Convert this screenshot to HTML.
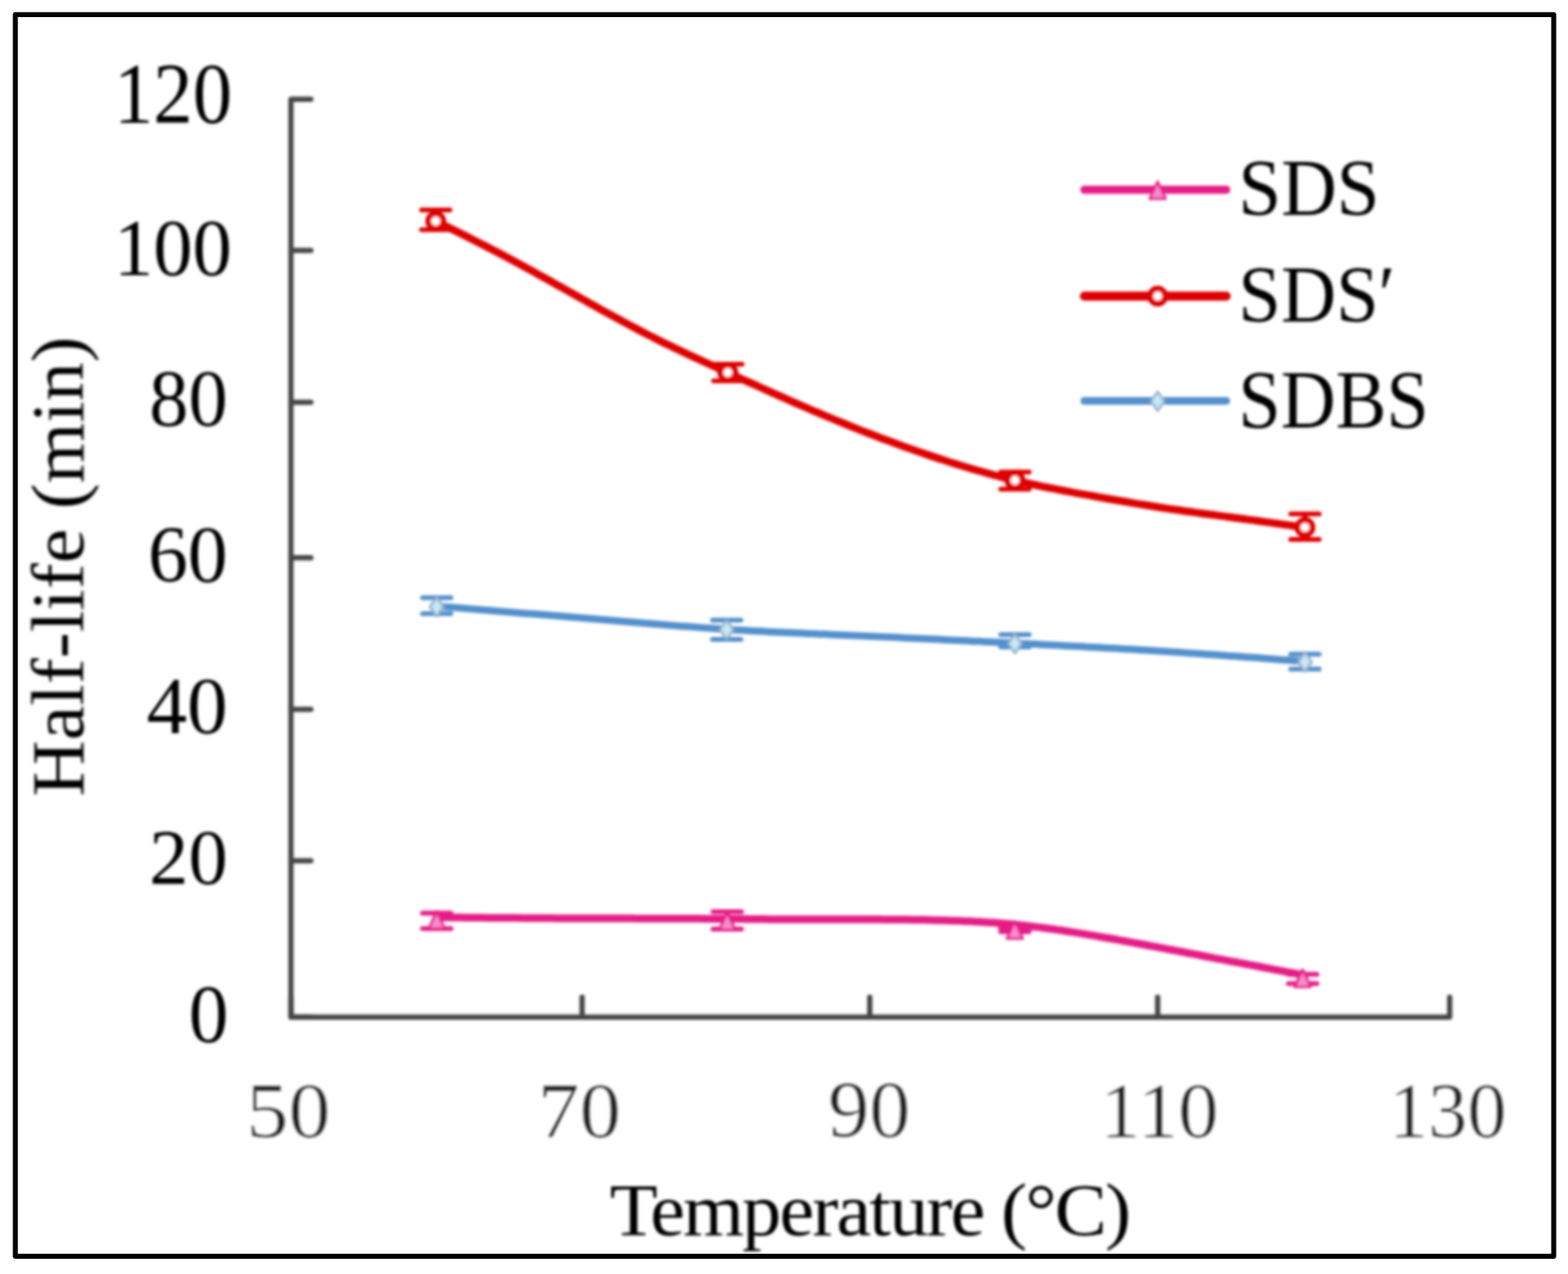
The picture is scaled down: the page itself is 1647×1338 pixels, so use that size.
<!DOCTYPE html>
<html><head><meta charset="utf-8"><title>Half-life (min) vs Temperature (°C)</title>
<style>
html,body{margin:0;padding:0;background:#fff;width:1647px;height:1338px;overflow:hidden}
svg{display:block}
.t{font-family:"Liberation Serif","Times New Roman",serif;fill:#000}
.yl{font-size:85px}
.xl{font-size:84px;fill:#1e1e1e;stroke:#fff;stroke-width:0.6px}
.lg{font-size:81px}
.xt{font-size:81px;letter-spacing:-2px}
.yt{font-size:81px}

</style></head>
<body>
<svg width="1647" height="1338" viewBox="0 0 1647 1338">
<defs><filter id="soft" x="0" y="0" width="1647" height="1338" filterUnits="userSpaceOnUse"><feGaussianBlur stdDeviation="1.4"/></filter></defs>
<rect width="1647" height="1338" fill="#fff"/>
<g filter="url(#soft)">
<path d="M305.6,104.2 V1068.25 H1522.7" fill="none" stroke="#454545" stroke-width="5.5" stroke-linejoin="round"/>
<path d="M305.6,1068.2 H326.6 M305.6,904.1 H326.6 M305.6,745.0 H326.6 M305.6,585.8 H326.6 M305.6,422.4 H326.6 M305.6,263.0 H326.6 M305.6,104.2 H326.6 M305.6,1068.25 V1047.2 M611.4,1068.25 V1047.2 M913.6,1068.25 V1047.2 M1216.0,1068.25 V1047.2 M1522.7,1068.25 V1047.2" fill="none" stroke="#454545" stroke-width="5.5" stroke-linecap="round"/>
<path d="M458.7,959.1 V975.2 M443.7,959.1 H473.7 M443.7,975.2 H473.7 M763.9,957.6 V975.8 M748.9,957.6 H778.9 M748.9,975.8 H778.9 M1066.0,974.5 V978.5 M1051.0,974.5 H1081.0 M1051.0,978.5 H1081.0 M1368.3,1023.3 V1033.0 M1353.3,1023.3 H1383.3 M1353.3,1033.0 H1383.3" fill="none" stroke="#e51b86" stroke-width="5.0" stroke-linecap="round"/>
<path d="M458.7,963.4 L464.7,963.5 L470.8,963.5 L476.8,963.6 L482.8,963.6 L488.8,963.7 L494.9,963.7 L500.9,963.8 L506.9,963.8 L513.0,963.9 L519.0,963.9 L525.0,964.0 L531.0,964.0 L537.1,964.1 L543.1,964.1 L549.1,964.2 L555.2,964.2 L561.2,964.2 L567.2,964.3 L573.2,964.3 L579.3,964.3 L585.3,964.4 L591.3,964.4 L597.4,964.4 L603.4,964.5 L609.4,964.5 L615.4,964.5 L621.5,964.5 L627.5,964.6 L633.5,964.6 L639.6,964.6 L645.6,964.6 L651.6,964.6 L657.6,964.6 L663.7,964.6 L669.7,964.7 L675.7,964.7 L681.8,964.7 L687.8,964.7 L693.8,964.7 L699.8,964.7 L705.9,964.7 L711.9,964.8 L717.9,964.8 L724.0,964.8 L730.0,964.8 L736.0,964.8 L742.0,964.9 L748.1,964.9 L754.1,964.9 L760.1,965.0 L766.2,965.0 L772.2,965.1 L778.2,965.1 L784.2,965.2 L790.3,965.2 L796.3,965.3 L802.3,965.3 L808.4,965.4 L814.4,965.4 L820.4,965.4 L826.4,965.5 L832.5,965.5 L838.5,965.6 L844.5,965.6 L850.6,965.6 L856.6,965.6 L862.6,965.6 L868.6,965.6 L874.7,965.6 L880.7,965.6 L886.7,965.6 L892.8,965.6 L898.8,965.6 L904.8,965.6 L910.8,965.6 L916.9,965.6 L922.9,965.6 L928.9,965.7 L934.9,965.7 L941.0,965.7 L947.0,965.8 L953.0,965.8 L959.1,965.9 L965.1,966.0 L971.1,966.1 L977.1,966.2 L983.2,966.4 L989.2,966.5 L995.2,966.7 L1001.3,966.9 L1007.3,967.1 L1013.3,967.4 L1019.3,967.6 L1025.4,967.9 L1031.4,968.3 L1037.4,968.7 L1043.5,969.1 L1049.5,969.5 L1055.5,970.0 L1061.5,970.6 L1067.6,971.2 L1073.6,971.8 L1079.6,972.5 L1085.7,973.2 L1091.7,973.9 L1097.7,974.7 L1103.7,975.5 L1109.8,976.4 L1115.8,977.3 L1121.8,978.2 L1127.9,979.1 L1133.9,980.1 L1139.9,981.1 L1145.9,982.1 L1152.0,983.1 L1158.0,984.2 L1164.0,985.2 L1170.1,986.3 L1176.1,987.4 L1182.1,988.5 L1188.1,989.6 L1194.2,990.7 L1200.2,991.8 L1206.2,993.0 L1212.3,994.1 L1218.3,995.2 L1224.3,996.4 L1230.3,997.5 L1236.4,998.7 L1242.4,999.8 L1248.4,1001.0 L1254.5,1002.2 L1260.5,1003.3 L1266.5,1004.5 L1272.5,1005.6 L1278.6,1006.8 L1284.6,1007.9 L1290.6,1009.1 L1296.7,1010.2 L1302.7,1011.4 L1308.7,1012.5 L1314.7,1013.7 L1320.8,1014.8 L1326.8,1016.0 L1332.8,1017.1 L1338.9,1018.3 L1344.9,1019.4 L1350.9,1020.6 L1356.9,1021.7 L1363.0,1022.9 L1369.0,1024.0" fill="none" stroke="#e51b86" stroke-width="8.0" stroke-linecap="round" stroke-linejoin="round"/>
<path d="M458.7,957.2 L467.0,975.2 L450.4,975.2 Z" fill="#f78bcf" stroke="#e51b86" stroke-width="2.6" stroke-linejoin="round"/>
<path d="M763.9,958.4 L772.2,976.4 L755.6,976.4 Z" fill="#f78bcf" stroke="#e51b86" stroke-width="2.6" stroke-linejoin="round"/>
<path d="M1066.0,967.7 L1074.3,985.7 L1057.7,985.7 Z" fill="#f78bcf" stroke="#e51b86" stroke-width="2.6" stroke-linejoin="round"/>
<path d="M1368.3,1018.4 L1376.6,1036.4 L1360.0,1036.4 Z" fill="#f78bcf" stroke="#e51b86" stroke-width="2.6" stroke-linejoin="round"/>
<path d="M458.7,627.7 V644.4 M443.7,627.7 H473.7 M443.7,644.4 H473.7 M763.3,651.3 V671.6 M748.3,651.3 H778.3 M748.3,671.6 H778.3 M1066.1,666.5 V679.6 M1051.1,666.5 H1081.1 M1051.1,679.6 H1081.1 M1370.7,686.9 V702.7 M1355.7,686.9 H1385.7 M1355.7,702.7 H1385.7" fill="none" stroke="#5290cc" stroke-width="5.0" stroke-linecap="round"/>
<path d="M458.7,636.7 L464.7,637.2 L470.7,637.6 L476.7,638.1 L482.7,638.6 L488.7,639.1 L494.7,639.6 L500.7,640.0 L506.7,640.5 L512.7,641.0 L518.7,641.5 L524.7,641.9 L530.7,642.4 L536.7,642.9 L542.7,643.4 L548.7,643.9 L554.7,644.4 L560.7,644.8 L566.7,645.3 L572.7,645.8 L578.7,646.3 L584.7,646.8 L590.7,647.3 L596.7,647.8 L602.7,648.3 L608.7,648.8 L614.7,649.3 L620.7,649.8 L626.7,650.3 L632.7,650.8 L638.7,651.3 L644.7,651.8 L650.7,652.3 L656.7,652.8 L662.7,653.3 L668.7,653.8 L674.7,654.3 L680.7,654.8 L686.7,655.3 L692.7,655.8 L698.7,656.3 L704.7,656.7 L710.7,657.2 L716.7,657.7 L722.7,658.1 L728.7,658.5 L734.7,659.0 L740.7,659.4 L746.7,659.8 L752.7,660.2 L758.7,660.6 L764.7,661.0 L770.7,661.4 L776.7,661.7 L782.7,662.1 L788.7,662.4 L794.7,662.7 L800.7,663.0 L806.7,663.4 L812.7,663.7 L818.7,664.0 L824.7,664.2 L830.7,664.5 L836.7,664.8 L842.7,665.1 L848.7,665.4 L854.7,665.6 L860.7,665.9 L866.7,666.1 L872.7,666.4 L878.7,666.7 L884.7,666.9 L890.7,667.2 L896.7,667.5 L902.7,667.7 L908.7,668.0 L914.7,668.3 L920.7,668.5 L926.7,668.8 L932.7,669.1 L938.7,669.3 L944.7,669.6 L950.7,669.9 L956.7,670.2 L962.7,670.5 L968.7,670.7 L974.7,671.0 L980.7,671.3 L986.7,671.6 L992.7,671.9 L998.7,672.2 L1004.7,672.5 L1010.7,672.8 L1016.7,673.1 L1022.7,673.4 L1028.7,673.6 L1034.7,673.9 L1040.7,674.2 L1046.7,674.5 L1052.7,674.8 L1058.7,675.1 L1064.7,675.4 L1070.7,675.7 L1076.7,676.0 L1082.7,676.3 L1088.7,676.6 L1094.7,676.9 L1100.7,677.2 L1106.7,677.5 L1112.7,677.8 L1118.7,678.2 L1124.7,678.5 L1130.7,678.8 L1136.7,679.1 L1142.7,679.4 L1148.7,679.7 L1154.7,680.1 L1160.7,680.4 L1166.7,680.7 L1172.7,681.1 L1178.7,681.4 L1184.7,681.8 L1190.7,682.1 L1196.7,682.5 L1202.7,682.8 L1208.7,683.2 L1214.7,683.6 L1220.7,683.9 L1226.7,684.3 L1232.7,684.7 L1238.7,685.1 L1244.7,685.5 L1250.7,685.9 L1256.7,686.3 L1262.7,686.7 L1268.7,687.2 L1274.7,687.6 L1280.7,688.0 L1286.7,688.4 L1292.7,688.9 L1298.7,689.3 L1304.7,689.7 L1310.7,690.2 L1316.7,690.6 L1322.7,691.1 L1328.7,691.5 L1334.7,692.0 L1340.7,692.4 L1346.7,692.9 L1352.7,693.3 L1358.7,693.8 L1364.7,694.2 L1370.7,694.7" fill="none" stroke="#5290cc" stroke-width="7.5" stroke-linecap="round" stroke-linejoin="round"/>
<path d="M458.7,627.2 L465.9,637.2 L458.7,647.2 L451.5,637.2 Z" fill="#c6e7f8" stroke="#93adc9" stroke-width="2.4" stroke-linejoin="round"/>
<path d="M763.3,651.4 L770.5,661.4 L763.3,671.4 L756.1,661.4 Z" fill="#c6e7f8" stroke="#93adc9" stroke-width="2.4" stroke-linejoin="round"/>
<path d="M1066.1,666.0 L1073.3,676.0 L1066.1,686.0 L1058.9,676.0 Z" fill="#c6e7f8" stroke="#93adc9" stroke-width="2.4" stroke-linejoin="round"/>
<path d="M1370.7,685.2 L1377.9,695.2 L1370.7,705.2 L1363.5,695.2 Z" fill="#c6e7f8" stroke="#93adc9" stroke-width="2.4" stroke-linejoin="round"/>
<path d="M457.7,220.6 V241.3 M442.7,220.6 H472.7 M442.7,241.3 H472.7 M764.5,382.6 V399.9 M749.5,382.6 H779.5 M749.5,399.9 H779.5 M1066.1,495.8 V513.7 M1051.1,495.8 H1081.1 M1051.1,513.7 H1081.1 M1370.7,539.8 V566.4 M1355.7,539.8 H1385.7 M1355.7,566.4 H1385.7" fill="none" stroke="#de0606" stroke-width="5.0" stroke-linecap="round"/>
<path d="M457.7,232.3 L463.7,235.3 L469.7,238.2 L475.7,241.2 L481.7,244.2 L487.7,247.2 L493.7,250.2 L499.7,253.3 L505.8,256.3 L511.8,259.4 L517.8,262.5 L523.8,265.6 L529.8,268.8 L535.8,272.0 L541.8,275.2 L547.8,278.5 L553.8,281.8 L559.8,285.1 L565.8,288.4 L571.8,291.7 L577.8,295.1 L583.8,298.4 L589.8,301.8 L595.9,305.2 L601.9,308.6 L607.9,312.0 L613.9,315.3 L619.9,318.7 L625.9,322.0 L631.9,325.4 L637.9,328.7 L643.9,332.0 L649.9,335.3 L655.9,338.5 L661.9,341.7 L667.9,344.9 L673.9,348.1 L679.9,351.2 L686.0,354.3 L692.0,357.3 L698.0,360.3 L704.0,363.2 L710.0,366.1 L716.0,368.9 L722.0,371.8 L728.0,374.6 L734.0,377.4 L740.0,380.1 L746.0,382.9 L752.0,385.6 L758.0,388.4 L764.0,391.1 L770.0,393.8 L776.0,396.6 L782.1,399.3 L788.1,402.0 L794.1,404.7 L800.1,407.5 L806.1,410.2 L812.1,412.9 L818.1,415.5 L824.1,418.2 L830.1,420.9 L836.1,423.5 L842.1,426.1 L848.1,428.7 L854.1,431.3 L860.1,433.8 L866.1,436.4 L872.2,438.9 L878.2,441.4 L884.2,443.8 L890.2,446.3 L896.2,448.7 L902.2,451.1 L908.2,453.4 L914.2,455.8 L920.2,458.1 L926.2,460.4 L932.2,462.6 L938.2,464.8 L944.2,467.0 L950.2,469.2 L956.2,471.3 L962.3,473.5 L968.3,475.5 L974.3,477.6 L980.3,479.6 L986.3,481.6 L992.3,483.5 L998.3,485.5 L1004.3,487.3 L1010.3,489.2 L1016.3,491.0 L1022.3,492.8 L1028.3,494.5 L1034.3,496.2 L1040.3,497.9 L1046.3,499.5 L1052.4,501.1 L1058.4,502.6 L1064.4,504.1 L1070.4,505.5 L1076.4,506.9 L1082.4,508.2 L1088.4,509.5 L1094.4,510.8 L1100.4,512.0 L1106.4,513.2 L1112.4,514.4 L1118.4,515.5 L1124.4,516.6 L1130.4,517.8 L1136.4,518.9 L1142.5,519.9 L1148.5,521.0 L1154.5,522.1 L1160.5,523.2 L1166.5,524.2 L1172.5,525.3 L1178.5,526.3 L1184.5,527.3 L1190.5,528.4 L1196.5,529.4 L1202.5,530.3 L1208.5,531.3 L1214.5,532.2 L1220.5,533.2 L1226.5,534.1 L1232.5,535.0 L1238.6,535.8 L1244.6,536.7 L1250.6,537.5 L1256.6,538.4 L1262.6,539.2 L1268.6,540.0 L1274.6,540.8 L1280.6,541.6 L1286.6,542.4 L1292.6,543.2 L1298.6,544.0 L1304.6,544.8 L1310.6,545.6 L1316.6,546.4 L1322.6,547.3 L1328.7,548.1 L1334.7,548.9 L1340.7,549.7 L1346.7,550.6 L1352.7,551.4 L1358.7,552.2 L1364.7,553.1 L1370.7,553.9" fill="none" stroke="#de0606" stroke-width="8.0" stroke-linecap="round" stroke-linejoin="round"/>
<circle cx="457.7" cy="232.3" r="7.8" fill="#fff" stroke="#de0606" stroke-width="6.2"/>
<circle cx="764.5" cy="391.3" r="7.8" fill="#fff" stroke="#de0606" stroke-width="6.2"/>
<circle cx="1066.1" cy="504.5" r="7.8" fill="#fff" stroke="#de0606" stroke-width="6.2"/>
<circle cx="1370.7" cy="553.9" r="7.8" fill="#fff" stroke="#de0606" stroke-width="6.2"/>
<path d="M1139,199.3 H1288" stroke="#e51b86" stroke-width="8.5" stroke-linecap="round"/>
<path d="M1216.0,190.8 L1224.3,208.8 L1207.7,208.8 Z" fill="#f78bcf" stroke="#e51b86" stroke-width="2.6" stroke-linejoin="round"/>
<path d="M1139,311.0 H1288" stroke="#de0606" stroke-width="9.5" stroke-linecap="round"/>
<circle cx="1216.0" cy="311.0" r="7.8" fill="#fff" stroke="#de0606" stroke-width="6.2"/>
<path d="M1139,420.9 H1288" stroke="#5290cc" stroke-width="8.0" stroke-linecap="round"/>
<path d="M1216.0,411.4 L1223.2,421.4 L1216.0,431.4 L1208.8,421.4 Z" fill="#c6e7f8" stroke="#93adc9" stroke-width="2.4" stroke-linejoin="round"/>
<g transform="translate(127.00,69.40) scale(0.9735,1.0667) translate(-122,-73)"><text x="242" y="129.2" class="t yl" text-anchor="end">120</text></g>
<g transform="translate(127.00,233.60) scale(0.9701,0.9912) translate(-122,-234)"><text x="242" y="289.9" class="t yl" text-anchor="end">100</text></g>
<g transform="translate(159.70,392.40) scale(0.9684,0.9895) translate(-160,-395)"><text x="242" y="450.6" class="t yl" text-anchor="end">80</text></g>
<g transform="translate(159.40,555.70) scale(0.9846,0.9895) translate(-161,-555)"><text x="242" y="611.2" class="t yl" text-anchor="end">60</text></g>
<g transform="translate(156.00,714.40) scale(1.0025,1.0018) translate(-159,-716)"><text x="242" y="771.9" class="t yl" text-anchor="end">40</text></g>
<g transform="translate(160.70,874.40) scale(0.9679,0.9719) translate(-161,-877)"><text x="242" y="932.6" class="t yl" text-anchor="end">20</text></g>
<g transform="translate(201.60,1037.10) scale(0.9806,1.0088) translate(-203,-1037)"><text x="242" y="1093.2" class="t yl" text-anchor="end">0</text></g>
<g transform="translate(264.40,1138.70) scale(1.0547,0.9895) translate(-269,-1139)"><text x="305.6" y="1195" class="t xl" text-anchor="middle">50</text></g>
<g transform="translate(571.40,1138.40) scale(1.0378,0.9947) translate(-574,-1139)"><text x="609.9" y="1195" class="t xl" text-anchor="middle">70</text></g>
<g transform="translate(872.70,1138.40) scale(1.0325,1.0018) translate(-875,-1139)"><text x="914.1" y="1195" class="t xl" text-anchor="middle">90</text></g>
<g transform="translate(1163.70,1138.70) scale(1.0126,0.9895) translate(-1165,-1139)"><text x="1218.4" y="1195" class="t xl" text-anchor="middle">110</text></g>
<g transform="translate(1466.80,1138.70) scale(0.9833,0.9895) translate(-1468,-1139)"><text x="1522.7" y="1195" class="t xl" text-anchor="middle">130</text></g>
<g transform="translate(1305.80,170.80) scale(0.9978,1.0519) translate(-1309,-175)"><text x="1304" y="227.8" class="t lg">SDS</text></g>
<g transform="translate(1305.80,282.80) scale(0.9911,1.0519) translate(-1309,-286)"><text x="1304" y="338.8" class="t lg">SDS′</text></g>
<g transform="translate(1305.80,391.60) scale(0.9865,1.0741) translate(-1309,-396)"><text x="1304" y="449.3" class="t lg">SDBS</text></g>
<g transform="translate(641.90,1243.20) scale(1.0165,0.9534) translate(-648,-1244)"><text x="915" y="1300" class="t xt" text-anchor="middle">Temperature (°C)</text></g>
<g transform="translate(31.80,356.80) scale(0.9757,1.0089) translate(-32,-359)"><text transform="translate(89,595) rotate(-90)" class="t yt" text-anchor="middle">Half-life (min)</text></g>
</g>
<rect x="16.1" y="15.45" width="1615.9" height="1303.9" fill="none" stroke="#000" stroke-width="5.2" stroke-linejoin="round"/>
</svg>
</body></html>
